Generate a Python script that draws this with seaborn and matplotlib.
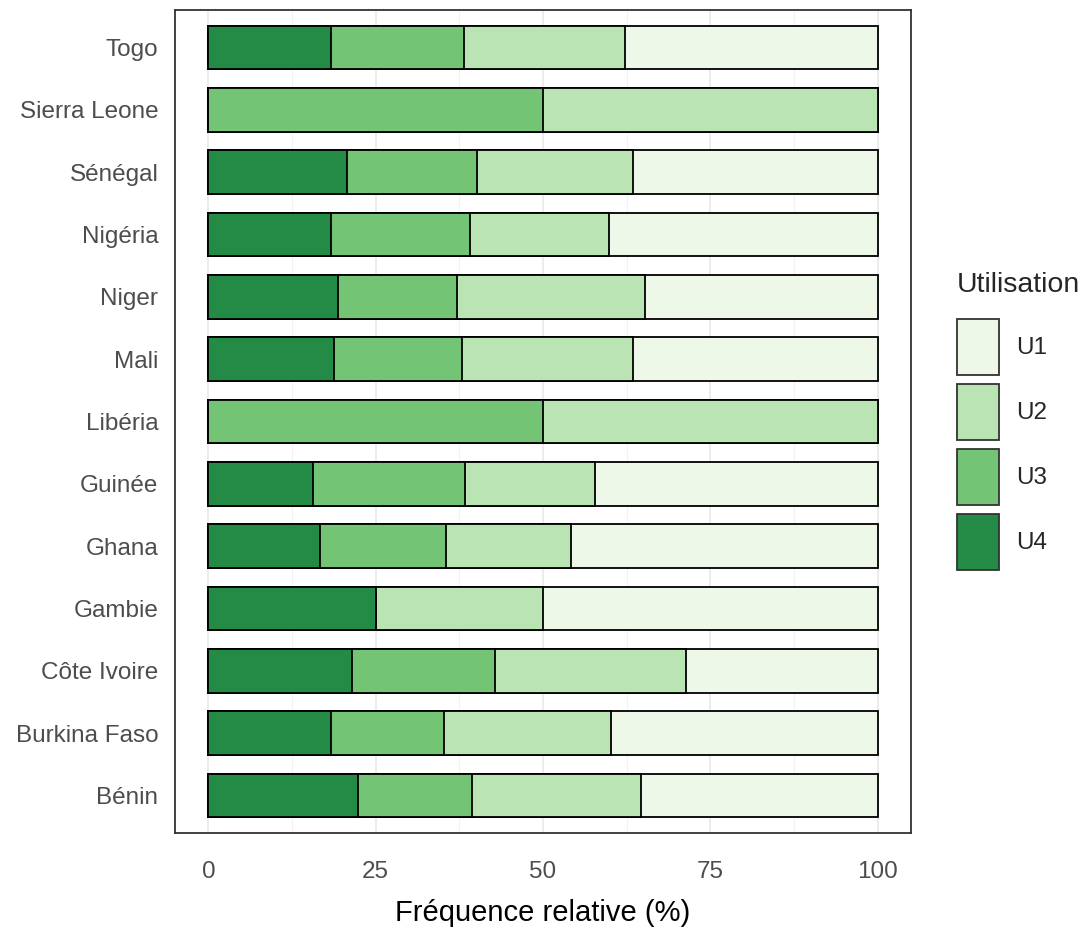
import numpy as np
import pandas as pd
import matplotlib
matplotlib.use("Agg")
import matplotlib.pyplot as plt
import seaborn as sns
from matplotlib.patches import Patch
from matplotlib.ticker import MultipleLocator

# countries, top to bottom as in the chart
pays = ['Togo', 'Sierra Leone', 'Sénégal', 'Nigéria', 'Niger', 'Mali', 'Libéria',
        'Guinée', 'Ghana', 'Gambie', 'Côte Ivoire', 'Burkina Faso', 'Bénin']

# relative frequency (%) per usage class
u4 = [18.3, 0.0, 20.7, 18.3, 19.4, 18.8, 0.0, 15.6, 16.7, 25.0, 21.4, 18.3, 22.4]
u3 = [19.9, 50.0, 19.5, 20.8, 17.8, 19.1, 50.0, 22.8, 18.8, 0.0, 21.5, 16.9, 17.0]
u2 = [24.1, 50.0, 23.2, 20.8, 28.0, 25.6, 50.0, 19.4, 18.7, 25.0, 28.5, 25.0, 25.3]
u1 = [37.7, 0.0, 36.6, 40.1, 34.8, 36.5, 0.0, 42.2, 45.8, 50.0, 28.6, 39.8, 35.3]

classes = ['U1', 'U2', 'U3', 'U4']
couleurs = {'U1': '#EDF8E9', 'U2': '#BAE4B3', 'U3': '#74C476', 'U4': '#238B45'}

df = pd.DataFrame({'Pays': pays, 'U4': u4, 'U3': u3, 'U2': u2, 'U1': u1})
# cumulative ends of each segment (U4 starts at 0)
df['c4'] = df['U4']
df['c3'] = df['c4'] + df['U3']
df['c2'] = df['c3'] + df['U2']
df['c1'] = df['c2'] + df['U1']

sns.set_theme(style='white')
plt.rcParams['font.family'] = ['Liberation Sans', 'DejaVu Sans']

fig = plt.figure(figsize=(10.84, 9.39), dpi=100)
ax = fig.add_axes([175 / 1084, 1 - 833 / 939, (911 - 175) / 1084, (833 - 10) / 939])

# grid behind bars
ax.set_axisbelow(True)
ax.xaxis.set_major_locator(MultipleLocator(25))
ax.xaxis.set_minor_locator(MultipleLocator(12.5))
ax.grid(True, which='major', axis='both', color='#EBEBEB', lw=1.3)
ax.grid(True, which='minor', axis='x', color='#F2F2F2', lw=0.8)

# stacked bars drawn from longest cumulative to shortest
for col, cl in [('c1', 'U1'), ('c2', 'U2'), ('c3', 'U3'), ('c4', 'U4')]:
    sns.barplot(data=df, x=col, y='Pays', order=pays, color=couleurs[cl],
                saturation=1, edgecolor='black', linewidth=1.3, width=0.7, ax=ax)

ax.set_xlim(-5, 105)
ax.set_ylim(len(pays) - 0.4, -0.6)
ax.set_xticks([0, 25, 50, 75, 100])
ax.set_xticklabels(['0', '25', '50', '75', '100'])
ax.set_ylabel('')
ax.set_xlabel('Fréquence relative (%)', fontsize=21, color='black', labelpad=12)

ax.tick_params(axis='both', which='major', direction='out', length=6, width=1.2,
               color='#333333', labelcolor='#4D4D4D', labelsize=17.5)
ax.tick_params(axis='y', pad=6)
ax.tick_params(axis='x', pad=14)
ax.tick_params(axis='x', which='minor', length=0)
for s in ax.spines.values():
    s.set_visible(True)
    s.set_color('#333333')
    s.set_linewidth(1.3)

handles = [Patch(facecolor=couleurs[c], edgecolor='#333333', linewidth=1.3, label=c)
           for c in classes]
leg = fig.legend(handles=handles, title='Utilisation', loc='upper left',
                 bbox_to_anchor=(935 / 1084, 1 - 250 / 939), frameon=False,
                 fontsize=17.5, title_fontsize=20.5, handlelength=1.75, handleheight=3.2,
                 labelspacing=0.35, handletextpad=0.7, alignment='left')
leg._legend_box.sep = 15  # gap between title and keys

fig.savefig('out.png', dpi=100)
